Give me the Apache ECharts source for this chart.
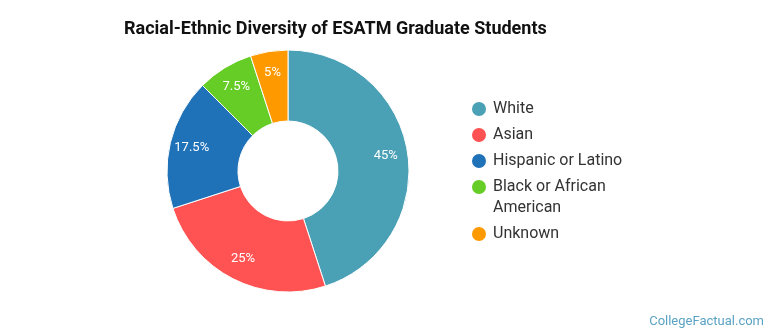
<!DOCTYPE html>
<html>
<head>
<meta charset="utf-8">
<script src="https://cdn.jsdelivr.net/npm/echarts@6/dist/echarts.min.js"></script>
<style>
  html, body { margin: 0; padding: 0; background: #fff; }
  #chart { width: 770px; height: 335px; }
</style>
</head>
<body>
<div id="chart"></div>
<script>
const categories = ['White', 'Asian', 'Hispanic or Latino', 'Black or African American', 'Unknown'];
const shares = [45, 25, 17.5, 7.5, 5];
const colors = ['#4aa0b5', '#ff5252', '#1f71b8', '#66cc26', '#ff9900'];
// legend rows: box top for each item
const legendTops = [98.5, 124.5, 150.5, 155.5, 223.5];

const pieData = categories.map((name, i) => ({ name: name, value: shares[i] }));

const chart = echarts.init(document.getElementById('chart'));

const legends = categories.map((name, i) => {
    const wrapped = name === 'Black or African American';
    return {
        data: [name],
        orient: 'vertical',
        left: 470,
        top: legendTops[i],
        padding: 0,
        icon: 'circle',
        itemWidth: 18,
        itemHeight: 16,
        itemGap: 5,
        selectedMode: false,
        formatter: function (n) {
            // blank first line so the first text line sits beside the icon
            return wrapped ? ' \nBlack or African\nAmerican' : n;
        },
        textStyle: {
            fontFamily: 'Roboto',
            fontSize: 16,
            lineHeight: 21,
            color: '#333'
        }
    };
});

const option = {
    backgroundColor: '#fff',
    color: colors,
    animation: false,
    title: {
        text: 'Racial-Ethnic Diversity of ESATM Graduate Students',
        left: 124,
        top: 20,
        padding: 0,
        textStyle: {
            fontFamily: 'Roboto',
            fontWeight: 'bold',
            fontSize: 18,
            color: '#111'
        }
    },
    legend: legends,
    graphic: [{
        type: 'text',
        right: 6,
        bottom: 7,
        style: {
            text: 'CollegeFactual.com',
            font: '13px Roboto',
            fill: '#5ba3c4'
        }
    }],
    series: [{
        type: 'pie',
        center: [288, 171],
        radius: [50, 121],
        startAngle: 90,
        label: { show: false },
        labelLine: { show: false },
        itemStyle: { borderColor: '#fff', borderWidth: 1 },
        emphasis: { disabled: true },
        data: pieData
    }, {
        // label ring only, puts the percentages a bit further out than the middle
        type: 'pie',
        center: [288, 171],
        radius: [71, 121],
        startAngle: 90,
        silent: true,
        itemStyle: { color: 'transparent', borderWidth: 0 },
        emphasis: { disabled: true },
        labelLine: { show: false },
        label: {
            position: 'inside',
            formatter: function (p) { return p.value + '%'; },
            fontFamily: 'Roboto',
            fontSize: 13,
            color: '#fff'
        },
        data: pieData
    }]
};

chart.setOption(option);
window.addEventListener('resize', function () {
    chart.resize();
});
</script>
</body>
</html>
